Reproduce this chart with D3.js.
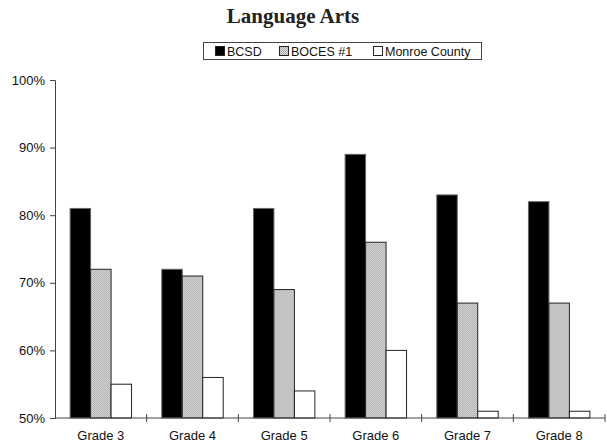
<!DOCTYPE html>
<html>
<head>
<meta charset="utf-8">
<script src="https://cdn.jsdelivr.net/npm/d3@7"></script>
<style>
  body { margin: 0; background: #fff; }
  text { font-family: "Liberation Sans", Arial, sans-serif; }
</style>
</head>
<body>
<div class="chart_wrapper"></div>
<script>
const grades = ["Grade 3", "Grade 4", "Grade 5", "Grade 6", "Grade 7", "Grade 8"]
const seriesNames = ["BCSD", "BOCES #1", "Monroe County"]
const bcsd = [81, 72, 81, 89, 83, 82]
const boces = [72, 71, 69, 76, 67, 67]
const monroe = [55, 56, 54, 60, 51, 51]
const yTicks = [50, 60, 70, 80, 90, 100]

const dataset = grades.map((g, i) => ({grade: g, values: [bcsd[i], boces[i], monroe[i]]}))

const W = 607, H = 445
const margin = {top: 80, right: 2, bottom: 27, left: 55},
    width = W - margin.left - margin.right,
    height = H - margin.top - margin.bottom

const svg = d3.select(".chart_wrapper")
  .append("svg")
    .attr("width", W)
    .attr("height", H)

// dotted gray fill for BOCES
const defs = svg.append("defs")
const pat = defs.append("pattern")
    .attr("id", "dots")
    .attr("width", 2).attr("height", 2)
    .attr("patternUnits", "userSpaceOnUse")
pat.append("rect").attr("width", 2).attr("height", 2).attr("fill", "#dcdcdc")
pat.append("rect").attr("width", 1).attr("height", 1).attr("fill", "#ababab")
pat.append("rect").attr("x", 1).attr("y", 1).attr("width", 1).attr("height", 1).attr("fill", "#ababab")

const fills = ["#000", "url(#dots)", "#fff"]

svg.append("text")
    .attr("x", 293)
    .attr("y", 23)
    .attr("text-anchor", "middle")
    .style("font-family", "'Liberation Serif', 'Times New Roman', serif")
    .style("font-weight", "bold")
    .style("font-size", "21px")
    .attr("fill", "#222")
    .text("Language Arts")

// legend
const legend = svg.append("g")
legend.append("rect")
    .attr("x", 203.5).attr("y", 42.5)
    .attr("width", 278).attr("height", 17)
    .attr("fill", "#fff").attr("stroke", "#444")
const legendX = [215, 279, 373]
seriesNames.forEach((s, i) => {
  legend.append("rect")
    .attr("x", legendX[i] + 0.5).attr("y", 46.5)
    .attr("width", 9).attr("height", 9)
    .attr("fill", fills[i]).attr("stroke", "#222")
  legend.append("text")
    .attr("x", legendX[i] + 12).attr("y", 55.5)
    .style("font-size", "12.5px")
    .attr("fill", "#111")
    .text(s)
})

const g = svg.append("g")
    .attr("transform", "translate(" + margin.left + "," + margin.top + ")")

const xScale = d3.scaleBand()
  .domain(grades)
  .range([0, width])
  .paddingInner(0.33)
  .paddingOuter(0.165)

const xSub = d3.scaleBand()
  .domain([0, 1, 2])
  .range([0, xScale.bandwidth()])

const yScale = d3.scaleLinear()
  .domain([50, 100])
  .range([height, 0])

g.selectAll(".grp")
  .data(dataset)
  .enter()
  .append("g")
    .attr("transform", d => "translate(" + xScale(d.grade) + ",0)")
  .selectAll("rect")
  .data(d => d.values.map((v, i) => ({i: i, v: v})))
  .enter()
  .append("rect")
    .attr("x", d => xSub(d.i))
    .attr("y", d => yScale(d.v))
    .attr("width", xSub.bandwidth())
    .attr("height", d => height - yScale(d.v))
    .attr("fill", d => fills[d.i])
    .attr("stroke", d => d.i == 0 ? "#666" : "#222")
    .attr("stroke-width", 1)

// y axis
const yAxis = d3.axisLeft(yScale)
  .tickValues(yTicks)
  .tickSize(5)
  .tickFormat(d => d + "%")
const ya = g.append("g").call(yAxis)
ya.select(".domain").attr("stroke", "#444")
ya.selectAll("line").attr("stroke", "#444")
ya.selectAll("text")
  .attr("x", -10)
  .style("font-size", "13px")
  .style("font-family", "'Liberation Sans', Arial, sans-serif")
  .attr("fill", "#111")

// x axis: boundary ticks crossing the axis line
const xa = g.append("g").attr("transform", "translate(0," + height + ")")
xa.append("line")
  .attr("x1", 0).attr("x2", width)
  .attr("stroke", "#444")
const bounds = grades.map((d, i) => xScale.step() * (i + 1))
xa.selectAll(".bt")
  .data(bounds)
  .enter()
  .append("line")
    .attr("x1", d => d).attr("x2", d => d)
    .attr("y1", -4).attr("y2", 4)
    .attr("stroke", "#444")
xa.selectAll(".lbl")
  .data(grades)
  .enter()
  .append("text")
    .attr("x", d => xScale(d) + xScale.bandwidth() / 2)
    .attr("y", 22)
    .attr("text-anchor", "middle")
    .style("font-size", "13px")
    .attr("fill", "#111")
    .text(d => d)
</script>
</body>
</html>
